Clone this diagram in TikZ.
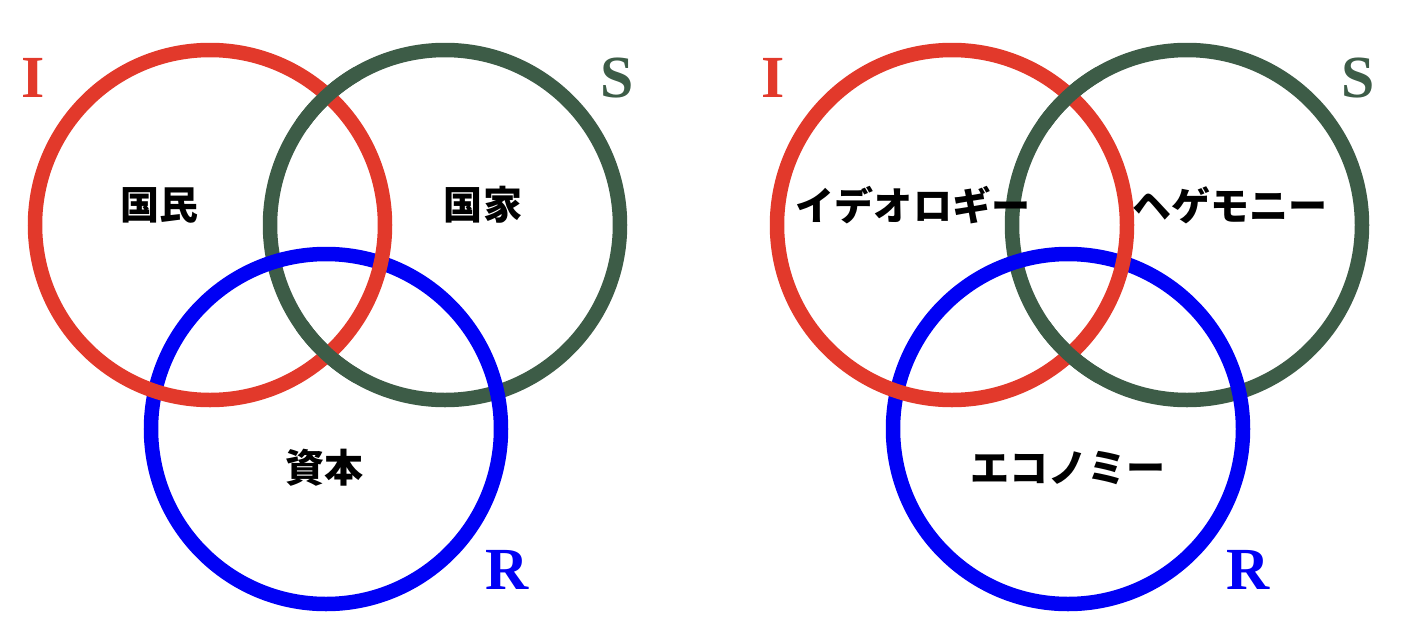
\documentclass[tikz,border=0pt]{standalone}
\usepackage{fontspec}
\usepackage{tikz}
\setmainfont{Liberation Serif}
\newfontfamily\jpfont{Noto Sans CJK JP}
\definecolor{ringred}{HTML}{E2392B}
\definecolor{ringgreen}{HTML}{3D5C47}
\definecolor{ringblue}{HTML}{0000F5}

\begin{document}
\begin{tikzpicture}[
    ring/.style={line width=0.145cm},
    ringI/.style={ring, draw=ringred},
    ringS/.style={ring, draw=ringgreen},
    ringR/.style={ring, draw=ringblue},
    letter/.style={font=\fontsize{17}{17}\selectfont\bfseries},
    word/.style={font=\jpfont\fontsize{11.1}{12}\selectfont\bfseries},
]
    \useasboundingbox (0,0) rectangle (14.05,6.34);

    % Left panel centres
    \coordinate (natI) at (2.10,4.09);
    \coordinate (natS) at (4.45,4.09);
    \coordinate (natR) at (3.26,2.05);

    % Right panel centres
    \coordinate (ideoI) at (9.52,4.09);
    \coordinate (ideoS) at (11.87,4.09);
    \coordinate (ideoR) at (10.68,2.05);

    % Rings (green, blue, red), then green again where it lies over red
    \draw[ringS] (natS) circle (1.75);
    \draw[ringR] (natR) circle (1.75);
    \draw[ringI] (natI) circle (1.75);
    \draw[ringS] (natS) ++(120:1.75) arc (120:145:1.75);
    \draw[ringS] (natS) ++(215:1.75) arc (215:240:1.75);

    \draw[ringS] (ideoS) circle (1.75);
    \draw[ringR] (ideoR) circle (1.75);
    \draw[ringI] (ideoI) circle (1.75);
    \draw[ringS] (ideoS) ++(120:1.75) arc (120:145:1.75);
    \draw[ringS] (ideoS) ++(215:1.75) arc (215:240:1.75);

    % Letters
    \node[letter, text=ringred] (natIl) at (0.33,5.56) {I};
    \node[letter, text=ringgreen] (natSl) at (6.17,5.56) {S};
    \node[letter, text=ringblue] (natRl) at (5.07,0.64) {R};
    \node[letter, text=ringred] (ideoIl) at (7.73,5.56) {I};
    \node[letter, text=ringgreen] (ideoSl) at (13.58,5.56) {S};
    \node[letter, text=ringblue] (ideoRl) at (12.48,0.64) {R};

    % Words
    \node[word] (nation) at (1.60,4.29) {国民};
    \node[word] (state) at (4.83,4.29) {国家};
    \node[word] (capital) at (3.25,1.66) {資本};
    \node[word] (ideology) at (9.13,4.29) {イデオロギー};
    \node[word] (hegemony) at (12.30,4.29) {ヘゲモニー};
    \node[word] (economy) at (10.68,1.66) {エコノミー};
\end{tikzpicture}
\end{document}
